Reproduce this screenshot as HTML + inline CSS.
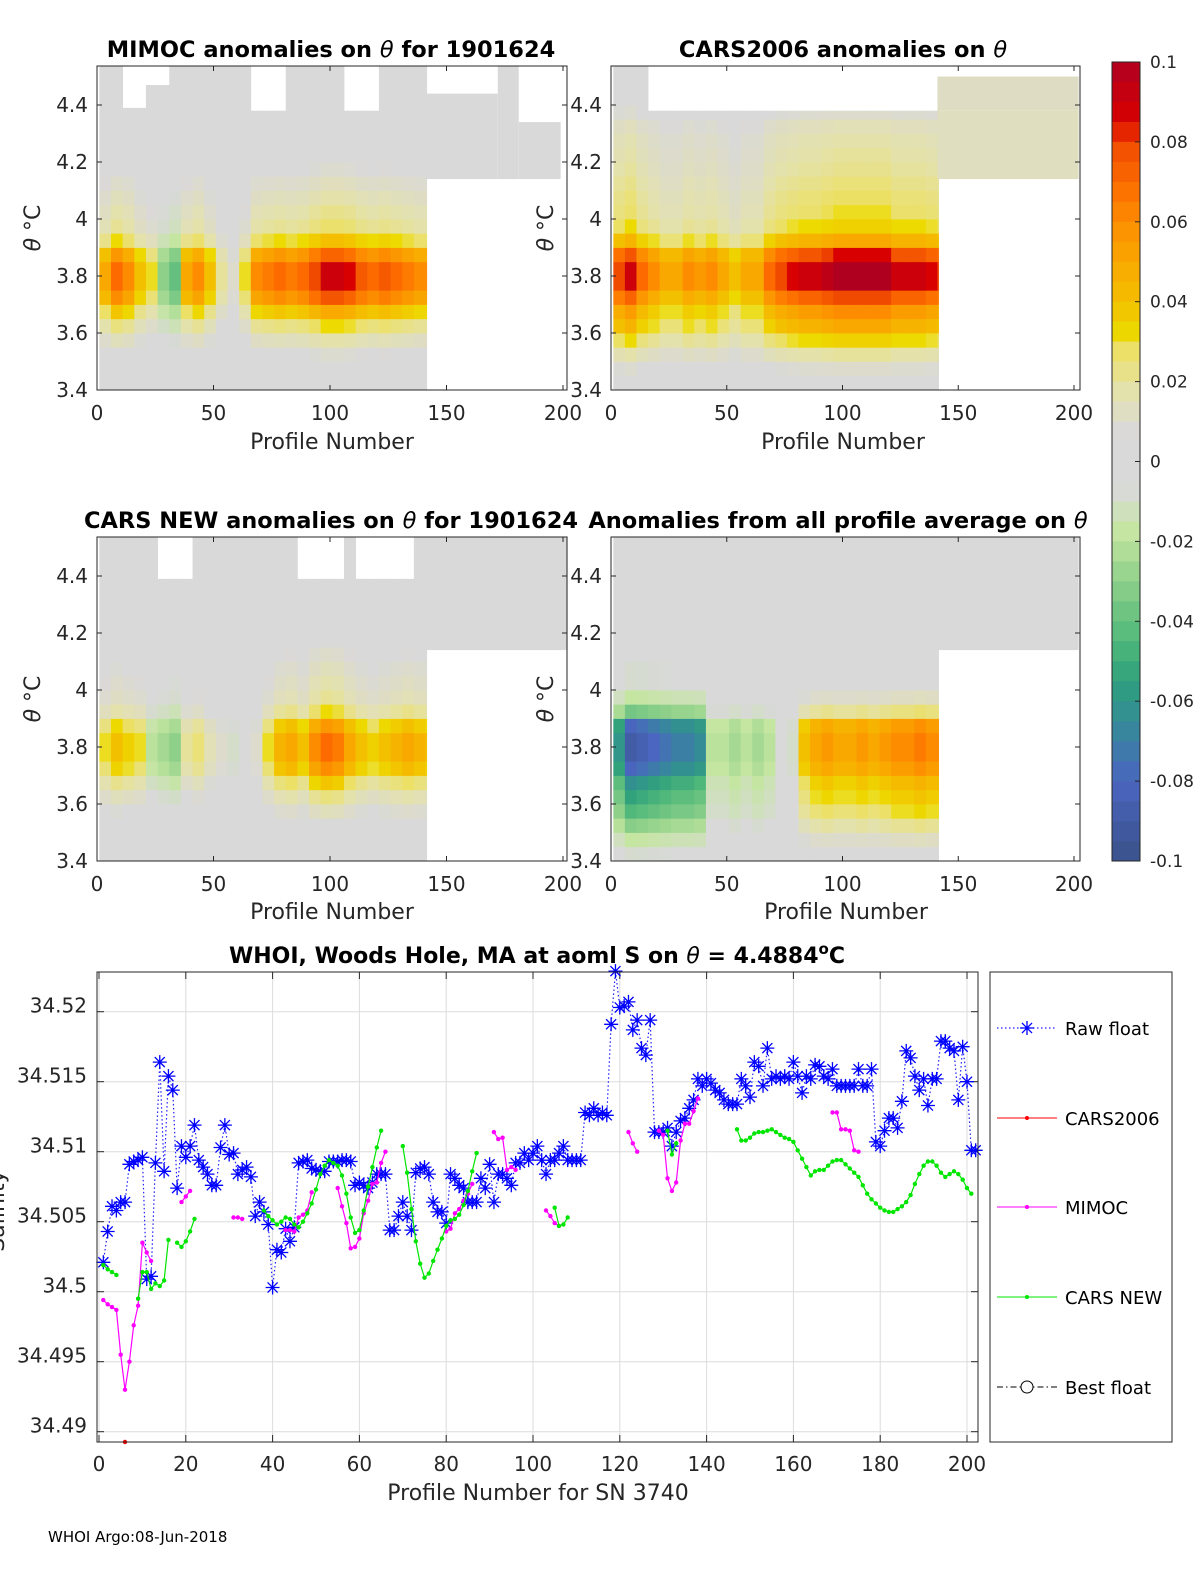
<!DOCTYPE html>
<html><head><meta charset="utf-8"><style>
html,body{margin:0;padding:0;background:#fff;}
svg{display:block;font-family:"DejaVu Sans","Liberation Sans",sans-serif;}
</style></head><body>
<svg id="fig" width="1200" height="1575" viewBox="0 0 1200 1575" xmlns="http://www.w3.org/2000/svg">
<rect width="1200" height="1575" fill="#fff"/>
<g id="panels"></g>
<g id="bottom"></g>
<text x="48" y="1542" font-size="15" fill="#000">WHOI Argo:08-Jun-2018</text>
</svg>
<script>
// ---------- heatmap data ----------
const thetaBins = [3.4,3.45,3.5,3.55,3.6,3.65,3.7,3.75,3.8,3.85,3.9,3.95,4.0,4.05,4.1,4.15,4.2,4.25,4.3,4.35,4.4,4.45,4.5];
const rowMimoc = [0,0.05,0.1,0.2,0.35,0.55,0.85,1,1,0.8,0.45,0.3,0.25,0.2,0.15,0.1,0.05,0.05,0.05,0,0,0,0];
const rowCars06 = [0.05,0.1,0.2,0.35,0.5,0.6,0.8,1,1,0.85,0.5,0.35,0.3,0.28,0.25,0.22,0.2,0.18,0.15,0.1,0.05,0.05,0.05];
const rowCarsNew = [0,0.05,0.1,0.2,0.35,0.55,0.85,1,1,0.8,0.45,0.3,0.25,0.2,0.15,0.1,0.05,0.05,0.05,0,0,0,0];
const rowAll = [0.1,0.2,0.35,0.5,0.6,0.7,0.9,1,1,0.9,0.4,0.2,0.1,0.1,0.05,0.05,0.05,0.05,0.05,0.05,0.05,0.05,0.05];
const colMimoc = [0.05,0.07,0.06,0.04,0.03,-0.03,-0.04,0.05,0.06,0.04,0.02,0.01,0.03,0.06,0.065,0.07,0.065,0.07,0.08,0.09,0.09,0.085,0.075,0.07,0.075,0.07,0.065,0.06,0.06];
const colCars06 = [0.08,0.09,0.07,0.06,0.05,0.05,0.06,0.055,0.06,0.05,0.04,0.05,0.05,0.07,0.08,0.085,0.09,0.09,0.095,0.1,0.1,0.1,0.1,0.1,0.09,0.09,0.09,0.085,0.08];
const colCarsNew = [0.03,0.04,0.035,0.03,-0.02,-0.025,-0.03,0.02,0.025,0.015,0.01,-0.01,0,0.01,0.03,0.045,0.05,0.04,0.06,0.07,0.065,0.05,0.04,0.035,0.04,0.045,0.05,0.045,0.04];
const colAll = [-0.06,-0.09,-0.085,-0.08,-0.075,-0.07,-0.07,-0.065,-0.02,-0.02,-0.025,-0.02,-0.025,-0.02,0,-0.01,0.04,0.05,0.055,0.05,0.05,0.055,0.05,0.055,0.06,0.06,0.065,0.06,0.06];
const topMimoc = [4.54,4.54,4.39,4.39,4.47,4.47,4.54,4.54,4.54,4.54,4.54,4.54,4.54,4.38,4.38,4.38,4.54,4.54,4.54,4.54,4.54,4.38,4.38,4.38,4.54,4.54,4.54,4.54,4.54];
const topCars06 = [4.54,4.54,4.54,4.38,4.38,4.38,4.38,4.38,4.38,4.38,4.38,4.38,4.38,4.38,4.38,4.38,4.38,4.38,4.38,4.38,4.38,4.38,4.38,4.38,4.38,4.38,4.38,4.38,4.38];
const topCarsNew = [4.54,4.54,4.54,4.54,4.54,4.39,4.39,4.39,4.54,4.54,4.54,4.54,4.54,4.54,4.54,4.54,4.54,4.39,4.39,4.39,4.39,4.54,4.39,4.39,4.39,4.39,4.39,4.54,4.54];
const topAll = [4.54,4.54,4.54,4.54,4.54,4.54,4.54,4.54,4.54,4.54,4.54,4.54,4.54,4.54,4.54,4.54,4.54,4.54,4.54,4.54,4.54,4.54,4.54,4.54,4.54,4.54,4.54,4.54,4.54];
// extra regions beyond profile 141: [pStart, pEnd, thetaLo, thetaHi, value]
const extraMimoc = [[141,172,4.14,4.44,0.003],[172,181,4.14,4.54,0.003],[181,199,4.14,4.34,0.003]];
const extraCars06 = [[141,202,4.14,4.38,0.013],[141,202,4.38,4.5,0.012]];
const extraCarsNew = [[141,202,4.14,4.54,0.004]];
const extraAll = [[141,202,4.14,4.54,0.002]];

const cbStops = [[-0.1,[58,81,137]],[-0.08,[74,102,192]],[-0.065,[52,140,150]],[-0.055,[47,160,125]],[-0.045,[80,184,122]],[-0.03,[142,208,138]],[-0.018,[196,230,160]],[-0.007,[217,217,217]],[0.007,[217,217,217]],[0.018,[228,226,170]],[0.028,[236,224,100]],[0.031,[236,220,0]],[0.04,[243,192,0]],[0.05,[249,168,0]],[0.06,[253,140,0]],[0.07,[252,106,0]],[0.08,[240,74,0]],[0.085,[216,0,0]],[0.1,[176,0,32]]];
function cmap(v){
  if(v<=cbStops[0][0]) return 'rgb('+cbStops[0][1]+')';
  for(let i=1;i<cbStops.length;i++){
    if(v<=cbStops[i][0]){
      const a=cbStops[i-1],b=cbStops[i];const t=(v-a[0])/(b[0]-a[0]);
      return 'rgb('+a[1].map((c,k)=>Math.round(c+(b[1][k]-c)*t)).join(',')+')';
    }
  }
  return 'rgb('+cbStops[cbStops.length-1][1]+')';
}
const NS='http://www.w3.org/2000/svg';
function mk(tag,attrs,parent){const e=document.createElementNS(NS,tag);for(const k in attrs)e.setAttribute(k,attrs[k]);if(parent)parent.appendChild(e);return e;}
function txt(s,attrs,parent){const e=mk('text',attrs,parent);e.textContent=s;return e;}
function titleParts(parts,attrs,parent){
  const e=mk('text',attrs,parent);
  parts.forEach(pt=>{const ts=mk('tspan',pt[1]||{},e);ts.textContent=pt[0];});
  return e;
}

const panels=[
 {name:'mimoc',left:97,right:567,top:66,bottom:390,x0:97,pw:2.33,col:colMimoc,row:rowMimoc,topLim:topMimoc,extra:extraMimoc,title:[['MIMOC anomalies on '],['θ',{'font-style':'italic','font-weight':'normal'}],['  for 1901624']],tx:331,ty:57,xl:'Profile Number',xlx:332,xly:449,ylx:40,tickLabX:88},
 {name:'cars2006',left:611,right:1080,top:66,bottom:390,x0:611,pw:2.315,col:colCars06,row:rowCars06,topLim:topCars06,extra:extraCars06,title:[['CARS2006 anomalies on '],['θ',{'font-style':'italic','font-weight':'normal'}]],tx:843,ty:57,xl:'Profile Number',xlx:843,xly:449,ylx:553,tickLabX:602},
 {name:'cars-new',left:97,right:567,top:537,bottom:861,x0:97,pw:2.33,col:colCarsNew,row:rowCarsNew,topLim:topCarsNew,extra:extraCarsNew,title:[['CARS NEW anomalies on '],['θ',{'font-style':'italic','font-weight':'normal'}],[' for 1901624']],tx:331,ty:528,xl:'Profile Number',xlx:332,xly:919,ylx:40,tickLabX:88},
 {name:'all-average',left:611,right:1080,top:537,bottom:861,x0:611,pw:2.315,col:colAll,row:rowAll,topLim:topAll,extra:extraAll,title:[['Anomalies from all profile average on '],['θ',{'font-style':'italic','font-weight':'normal'}]],tx:838,ty:528,xl:'Profile Number',xlx:846,xly:919,ylx:553,tickLabX:602}
];
const pg=document.getElementById('panels');
panels.forEach(P=>{
  const g=mk('g',{},pg);
  
  
  const X=p=>P.x0+p*P.pw, Y=th=>P.bottom-(th-3.4)*285;
  const cells=mk('g',{},g);
  
  
  P.col.forEach((cv,gi)=>{
    const p0=gi*5+1, p1=Math.min(gi*5+6,141.5);
    thetaBins.forEach((th,ri)=>{
      const th1=Math.min(th+0.05,P.topLim[gi]);
      if(th1<=th) return;
      const v=cv*P.row[ri];
      const r=mk('rect',{x:X(p0).toFixed(2),y:Y(th1).toFixed(2),width:(X(p1)-X(p0)+0.4).toFixed(2),height:(Y(th)-Y(th1)+0.4).toFixed(2),fill:cmap(v)},cells);
      
      
    });
  });
  P.extra.forEach(e=>{
    const r=mk('rect',{x:X(e[0]),y:Y(e[3]),width:X(e[1])-X(e[0]),height:Y(e[2])-Y(e[3]),fill:cmap(e[4])},cells);
    
    
  });
  mk('rect',{x:P.left,y:P.top-40,width:P.right-P.left,height:40,fill:'#fff'},g);
  const box=mk('rect',{x:P.left,y:P.top,width:P.right-P.left,height:P.bottom-P.top,fill:'none',stroke:'#262626','stroke-width':1},g);
  
  
  [0,50,100,150,200].forEach(t=>{
    const x=X(t);
    mk('line',{x1:x,x2:x,y1:P.bottom,y2:P.bottom-5,stroke:'#262626'},g);
    mk('line',{x1:x,x2:x,y1:P.top,y2:P.top+5,stroke:'#262626'},g);
    const l=txt(String(t),{x:x,y:P.bottom+30,'font-size':20,'text-anchor':'middle',fill:'#262626'},g);
    
    
  });
  [3.4,3.6,3.8,4,4.2,4.4].forEach(t=>{
    const y=Y(t);
    mk('line',{x1:P.left,x2:P.left+5,y1:y,y2:y,stroke:'#262626'},g);
    mk('line',{x1:P.right,x2:P.right-5,y1:y,y2:y,stroke:'#262626'},g);
    const l=txt(String(t),{x:P.tickLabX,y:y+7,'font-size':20,'text-anchor':'end',fill:'#262626'},g);
    
    
  });
  const t=titleParts(P.title,{x:P.tx,y:P.ty,'font-size':22.5,'font-weight':'bold','text-anchor':'middle',fill:'#000'},g);
  
  
  const xl=txt(P.xl,{x:P.xlx,y:P.xly,'font-size':22,'text-anchor':'middle',fill:'#262626'},g);
  
  
  const cy=(P.top+P.bottom)/2;
  const yl=titleParts([['θ',{'font-style':'italic'}],[' °C']],{x:P.ylx,y:cy,'font-size':22,'text-anchor':'middle',fill:'#262626',transform:'rotate(-90 '+P.ylx+' '+cy+')'},g);
  
  
});
// colorbar
const cbTicks=[0.1,0.08,0.06,0.04,0.02,0,-0.02,-0.04,-0.06,-0.08,-0.1];
const cbg=mk('g',{},pg);


const cbY=v=>62+(0.1-v)/0.2*799;
for(let i=0;i<40;i++){
  const v0=0.1-i*0.005;
  mk('rect',{x:1112,y:cbY(v0),width:28,height:cbY(v0-0.005)-cbY(v0)+0.3,fill:cmap(v0-0.0025)},cbg);
}
mk('rect',{x:1112,y:62,width:28,height:799,fill:'none',stroke:'#262626'},cbg);
cbTicks.forEach(v=>{
  const y=cbY(v);
  mk('line',{x1:1135,x2:1140,y1:y,y2:y,stroke:'#262626'},cbg);
  const l=txt(String(v),{x:1150,y:y+6,'font-size':17,fill:'#262626'},cbg);
  
  
});

// ---------- bottom line chart ----------
const rawFloat=[34.5021,34.5043,34.5061,34.5058,34.5064,34.5064,34.5091,34.5093,34.5094,34.5096,34.5009,34.5011,34.5092,34.5164,34.5086,34.5154,34.5144,34.5074,34.5104,34.5096,
34.5104,34.5119,34.5094,34.5089,34.5084,34.5076,34.5076,34.5103,34.5119,34.5098,34.5099,34.5084,34.5087,34.5089,34.5082,34.5054,34.5064,34.5057,34.5048,34.5003,
34.503,34.5028,34.5045,34.5036,34.5046,34.5092,34.5093,34.5094,34.5088,34.5087,34.5086,34.5086,34.5093,34.5093,34.5093,34.5094,34.5094,34.5093,34.5076,34.5078,
34.5076,34.5074,34.5078,34.5084,34.5084,34.5084,34.5044,34.5044,34.5054,34.5064,34.5054,34.5044,34.5085,34.5088,34.5089,34.5084,34.5064,34.5057,34.5057,34.5049,
34.5084,34.5081,34.5076,34.5074,34.5064,34.5064,34.5064,34.5081,34.5074,34.5091,34.5064,34.5084,34.5084,34.5081,34.5076,34.5092,34.5092,34.5099,34.5094,34.5099,
34.5104,34.5094,34.5084,34.5094,34.5094,34.5099,34.5104,34.5094,34.5094,34.5094,34.5094,34.5128,34.5126,34.5131,34.5126,34.5128,34.5126,34.5191,34.5229,34.5203,
34.5204,34.5207,34.5187,34.5194,34.5174,34.5169,34.5194,34.5114,34.5114,34.5114,34.5117,34.5104,34.5114,34.5122,34.5124,34.5131,34.5137,34.5152,34.5147,34.5152,
34.5149,34.5144,34.5142,34.5137,34.5134,34.5134,34.5134,34.5152,34.5147,34.5139,34.5164,34.5161,34.5147,34.5174,34.5152,34.5154,34.5152,34.5154,34.5152,34.5164,
34.5154,34.5142,34.5154,34.5152,34.5162,34.5161,34.5154,34.5152,34.5159,34.5147,34.5147,34.5147,34.5147,34.5147,34.5159,34.5147,34.5147,34.5159,34.5107,34.5104,
34.5115,34.5124,34.5124,34.5117,34.5136,34.5172,34.5167,34.5154,34.5144,34.5152,34.5133,34.5152,34.5152,34.5179,34.5179,34.5174,34.5172,34.5137,34.5175,34.515,
34.5101,34.5101];
const mimocSegs=[
 [1,34.4994,34.4991,34.4989,34.4987,34.4955,34.493,34.495,34.4976,34.499,34.5035,34.5028,34.5022],
 [19,34.5064,34.5068,34.5072],
 [31,34.5053,34.5053,34.5052],
 [43,34.5044,34.5044,34.5043,34.5053,34.5055,34.5058,34.5071],
 [55,34.5074,34.5061,34.5049,34.5031,34.5032,34.5038,34.5056,34.5065,34.5077,34.5078,34.5092,34.51],
 [80,34.5043,34.5045,34.5056,34.5059,34.5065,34.507,34.5077],
 [91,34.5114,34.5109,34.511,34.5087,34.5089,34.5087],
 [103,34.5058,34.5054,34.5049,34.5047],
 [122,34.5114,34.5106,34.51],
 [129,34.5115,34.5112,34.5081,34.5072,34.5078,34.5108,34.512,34.512,34.5129,34.5138],
 [169,34.5128,34.5128,34.5116,34.5116,34.5115,34.5101,34.51]
];
const carsNewSegs=[
 [1,34.5019,34.5016,34.5014,34.5012],
 [9,34.4995,34.5014,34.5014,34.5002,34.5006,34.5004,34.5008,34.5037],
 [18,34.5035,34.5032,34.5036,34.5043,34.5052],
 [38,34.5058,34.5054,34.5051,34.5048,34.505,34.5053,34.5052,34.5048,34.5046,34.505,34.5056,34.5063,34.5073,34.5084,34.509,34.5094,34.5092,34.509,34.5083,34.507,34.5053,34.5042,34.5044,34.5058,34.5075,34.5089,34.5103,34.5115],
 [70,34.5104,34.5085,34.5059,34.5036,34.502,34.501,34.5013,34.5022,34.503,34.5038,34.5047,34.5051,34.5052,34.5055,34.5062,34.5072,34.5086,34.5099],
 [105,34.506,34.5047,34.5048,34.5053],
 [131,34.5115,34.5098,34.5106],
 [147,34.5116,34.5108,34.5108,34.511,34.5113,34.5114,34.5114,34.5115,34.5116,34.5114,34.5112,34.511,34.5109,34.5107,34.5101,34.5095,34.5089,34.5083,34.5086,34.5087,34.5087,34.509,34.5093,34.5094,34.5094,34.5091,34.5088,34.5085,34.5082,34.5076,34.507,34.5066,34.5063,34.506,34.5058,34.5057,34.5057,34.5059,34.5061,34.5064,34.5069,34.5077,34.5084,34.509,34.5093,34.5093,34.509,34.5085,34.5082,34.5084,34.5086,34.5084,34.508,34.5074,34.507]
];
const cars2006Segs=[[6,34.4888]];
const xTicks=[0,20,40,60,80,100,120,140,160,180,200];
const yTicks=[34.49,34.495,34.5,34.505,34.51,34.515,34.52];
const yTickLabels=['34.49','34.495','34.5','34.505','34.51','34.515','34.52'];

const L={left:97,right:978,top:972,bottom:1442};
const bx=p=>99+p*4.34;
const by=v=>1011.7+(34.52-v)/0.005*70;
const bg=document.getElementById('bottom');
const grid=mk('g',{},bg);


xTicks.forEach(t=>{
  const x=bx(t);
  mk('line',{x1:x,x2:x,y1:L.top,y2:L.bottom,stroke:'#dcdcdc','stroke-width':1},grid);
  mk('line',{x1:x,x2:x,y1:L.bottom,y2:L.bottom-7,stroke:'#262626'},bg);
  mk('line',{x1:x,x2:x,y1:L.top,y2:L.top+7,stroke:'#262626'},bg);
  const l=txt(String(t),{x:x,y:L.bottom+29,'font-size':20,'text-anchor':'middle',fill:'#262626'},bg);
  
  
});
yTicks.forEach((t,i)=>{
  const y=by(t);
  mk('line',{x1:L.left,x2:L.right,y1:y,y2:y,stroke:'#dcdcdc','stroke-width':1},grid);
  mk('line',{x1:L.left,x2:L.left+7,y1:y,y2:y,stroke:'#262626'},bg);
  mk('line',{x1:L.right,x2:L.right-7,y1:y,y2:y,stroke:'#262626'},bg);
  const l=txt(yTickLabels[i],{x:87,y:y+1,'font-size':20,'text-anchor':'end',fill:'#262626'},bg);
  
  
});
function star(g,x,y,s,c){
  const d=s,e=s*0.72;
  return mk('path',{d:`M${x-d},${y}H${x+d}M${x},${y-d}V${y+d}M${x-e},${y-e}L${x+e},${y+e}M${x-e},${y+e}L${x+e},${y-e}`,stroke:c,'stroke-width':1.3,fill:'none'},g);
}
const rawG=mk('g',{},bg);


const rawLine=mk('polyline',{points:rawFloat.map((v,i)=>bx(i+1).toFixed(1)+','+by(v).toFixed(1)).join(' '),fill:'none',stroke:'#2020ff','stroke-width':1.2,'stroke-dasharray':'1.5,2.5'},rawG);


rawFloat.forEach((v,i)=>{
  const s=star(rawG,bx(i+1),by(v),7,'#0000ff');
  
  
});
function drawSegs(segs,color,name){
  const g=mk('g',{},bg);
  
  
  segs.forEach(seg=>{
    const p0=seg[0],vals=seg.slice(1);
    const pl=mk('polyline',{points:vals.map((v,i)=>bx(p0+i).toFixed(1)+','+by(v).toFixed(1)).join(' '),fill:'none',stroke:color,'stroke-width':1.2},g);
    
    
    vals.forEach((v,i)=>{
      const c=mk('circle',{cx:bx(p0+i).toFixed(1),cy:Math.min(by(v),L.bottom).toFixed(1),r:2.2,fill:color},g);
      
      
    });
  });
}
drawSegs(mimocSegs,'#ff00ff','mimoc');
drawSegs(carsNewSegs,'#00e600','cars-new');
drawSegs(cars2006Segs,'#ff0000','cars2006');
const ab=mk('rect',{x:L.left,y:L.top,width:L.right-L.left,height:L.bottom-L.top,fill:'none',stroke:'#262626'},bg);


const bt=titleParts([['WHOI, Woods Hole, MA at aoml S on '],['θ',{'font-style':'italic','font-weight':'normal'}],[' = 4.4884'],['o',{dy:'-9','font-size':'15'}],['C',{dy:'9'}]],{x:537,y:963,'font-size':22,'font-weight':'bold','text-anchor':'middle',fill:'#000'},bg);


const bxl=txt('Profile Number for SN 3740',{x:538,y:1500,'font-size':22,'text-anchor':'middle',fill:'#262626'},bg);


const byl=txt('Salinity',{x:0,y:1207,'font-size':22,'text-anchor':'middle',fill:'#262626',transform:'rotate(-90 4 1207)'},bg);


// legend
const lg=mk('g',{},bg);


mk('rect',{x:990,y:972,width:182,height:470,fill:'#fff',stroke:'#262626'},lg);
const legNames=['Raw float','CARS2006','MIMOC','CARS NEW','Best float'];
const legY=[1028,1118,1207,1297,1387];
legNames.forEach((n,i)=>{
  const y=legY[i];
  const e=mk('g',{},lg);
  
  
  if(i===0){mk('line',{x1:997,x2:1057,y1:y,y2:y,stroke:'#2020ff','stroke-dasharray':'1.5,2.5','stroke-width':1.2},e);star(e,1027,y,7,'#0000ff');}
  if(i===1){mk('line',{x1:997,x2:1057,y1:y,y2:y,stroke:'#ff0000'},e);mk('circle',{cx:1027,cy:y,r:2,fill:'#ff0000'},e);}
  if(i===2){mk('line',{x1:997,x2:1057,y1:y,y2:y,stroke:'#ff00ff'},e);mk('circle',{cx:1027,cy:y,r:2,fill:'#ff00ff'},e);}
  if(i===3){mk('line',{x1:997,x2:1057,y1:y,y2:y,stroke:'#00e600'},e);mk('circle',{cx:1027,cy:y,r:2,fill:'#00e600'},e);}
  if(i===4){mk('line',{x1:997,x2:1057,y1:y,y2:y,stroke:'#000','stroke-dasharray':'6,3,1.5,3'},e);mk('circle',{cx:1027,cy:y,r:6,fill:'#fff',stroke:'#000'},e);}
  txt(n,{x:1065,y:y+7,'font-size':18,fill:'#000'},e);
});
</script>
</body></html>
